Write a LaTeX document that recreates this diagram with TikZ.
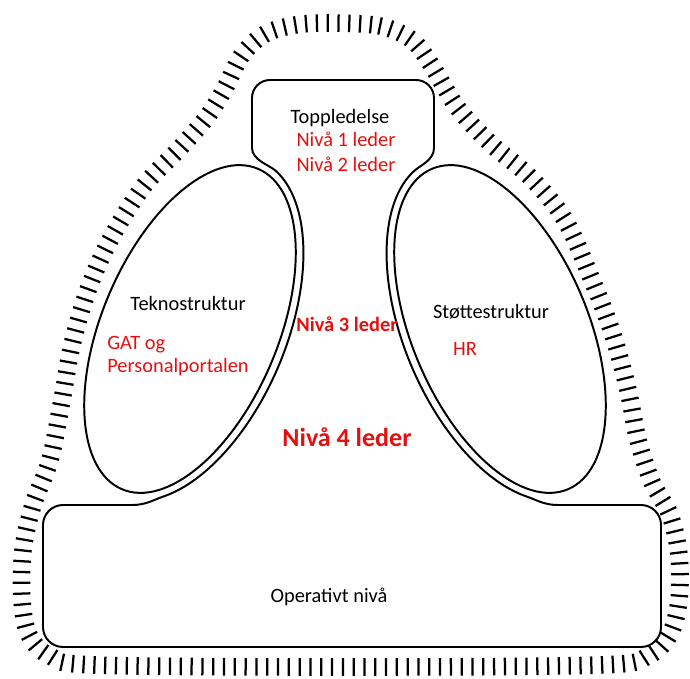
\documentclass[tikz,border=0pt]{standalone}
\usepackage{fontspec}
\setmainfont{Carlito}
\usepackage{tikz}
\usetikzlibrary{decorations.pathreplacing}
\definecolor{nivared}{RGB}{228,16,16}

\begin{document}
\begin{tikzpicture}[
        x=0.025cm, y=-0.025cm,
        wall/.style={draw, line width=1.4pt, line join=round},
        band/.style={line width=1.6pt, decorate, decoration={ticks, segment length=0.27cm, amplitude=0.22cm}},
        lbl/.style={font=\fontsize{14.5}{17}\selectfont, anchor=base, inner sep=0pt},
        niva/.style={lbl, text=nivared}
    ]
    \useasboundingbox (0,0) rectangle (690,678);

    % ideologi (skravert kant)
    \draw[band] plot[smooth cycle, tension=0.55] coordinates {
        (330,23) (380,26) (412,40) (432,66) (457,107) (490,143) (530,177) (565,220)
        (592,280) (613,335) (628,390) (638,440) (652,482) (670,515) (679,555) (679,600)
        (670,634) (648,656) (600,665) (345,667) (95,665) (50,656) (29,635) (22,600)
        (23,550) (33,505) (50,460) (62,400) (72,345) (88,290) (110,240) (143,187)
        (180,148) (207,117) (225,88) (242,55) (265,34) (295,25)};

    % toppledelse + mellomledd + operativ kjerne
    \draw[wall] (252,148)
        .. controls (252,160) and (269.4,165.2) .. (275.4,170.5)
        -- plot[smooth, domain=10:155, samples=38, variable=\t]
            ({190+182*cos(\t)*0.39073+96*sin(\t)*0.92050}, {329-182*cos(\t)*0.92050+96*sin(\t)*0.39073})
        .. controls (153.4,499.9) and (146,505) .. (132,505)
        -- (90,505) [rounded corners=0.5cm] -- (43,505) -- (43,647) -- (661,647) -- (661,505) [sharp corners] -- (600,505) -- (558,505)
        .. controls (544,505) and (536.6,499.9) .. (527.1,496.7)
        -- plot[smooth, domain=155:10, samples=38, variable=\t]
            ({500-182*cos(\t)*0.39073-96*sin(\t)*0.92050}, {329-182*cos(\t)*0.92050+96*sin(\t)*0.39073})
        .. controls (420.6,165.2) and (434,160) .. (434,148)
        -- (434,120) [rounded corners=0.45cm] -- (434,80) -- (252,80) [sharp corners] -- (252,120) -- cycle;

    % teknostruktur og støttestruktur
    \draw[wall, rotate around={67:(190,329)}] (190,329) ellipse [x radius=4.35cm, y radius=2.2cm];
    \draw[wall, rotate around={113:(500,329)}] (500,329) ellipse [x radius=4.35cm, y radius=2.2cm];

    \node[lbl] (toppledelse) at (340,123) {Toppledelse};
    \node[niva] (niva1) at (346,146) {Nivå 1 leder};
    \node[niva] (niva2) at (346,171) {Nivå 2 leder};
    \node[lbl] (tekno) at (188,310) {Teknostruktur};
    \node[niva, anchor=west, align=left] (gat) at (107,356) {GAT og\\ Personalportalen};
    \node[niva, font=\fontsize{14.5}{17}\selectfont\bfseries] (niva3) at (347,331) {Nivå 3 leder};
    \node[lbl] (stotte) at (491,318) {Støttestruktur};
    \node[niva] (hr) at (465,355) {HR};
    \node[niva, font=\fontsize{18.5}{22}\selectfont\bfseries] (niva4) at (347,446) {Nivå 4 leder};
    \node[lbl] (operativ) at (329,602) {Operativt nivå};
\end{tikzpicture}
\end{document}
